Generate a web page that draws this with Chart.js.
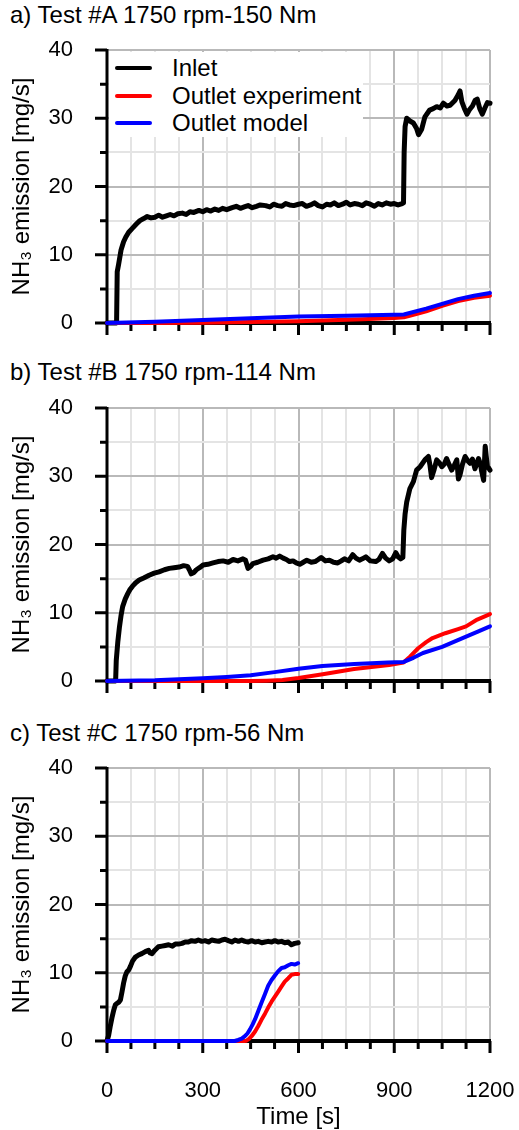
<!DOCTYPE html>
<html lang="en">
<head>
    <meta charset="UTF-8">
    <title>NH3 emission</title>
    <script src="https://cdn.jsdelivr.net/npm/chart.js"></script>
    <style>
        body { margin: 0; background: #fff; font-family: "Liberation Sans", Arial, sans-serif; }
        #page { position: relative; width: 519px; height: 1130px; }
        .ptitle { position: absolute; left: 10px; font-size: 24px; line-height: 28px; color: #000; white-space: nowrap; }
        canvas { position: absolute; left: 0; }
        #legend { position: absolute; left: 109px; top: 52px; width: 254px; height: 85px; background: #fff; z-index: 2; }
        .row { position: absolute; left: 0; height: 28px; font-size: 24px; line-height: 28px; }
        .row span.sw { position: absolute; left: 6px; top: 12px; width: 37px; height: 4px; border-radius: 2px; }
        .row span.tx { position: absolute; left: 63px; top: 0; white-space: nowrap; }
    </style>
</head>
<body>
<div id="page">
    <div class="ptitle" style="top:1px">a) Test #A 1750 rpm-150 Nm</div>
    <div class="ptitle" style="top:358px">b) Test #B 1750 rpm-114 Nm</div>
    <div class="ptitle" style="top:719px">c) Test #C 1750 rpm-56 Nm</div>

    <canvas id="chartA" width="519" height="300" style="top:40px"></canvas>
    <canvas id="chartB" width="519" height="301" style="top:397px"></canvas>
    <canvas id="chartC" width="519" height="373" style="top:757px"></canvas>

    <div id="legend">
        <div class="row" style="top:2px"><span class="sw" style="background:#000"></span><span class="tx">Inlet</span></div>
        <div class="row" style="top:30px"><span class="sw" style="background:#ff0000"></span><span class="tx">Outlet experiment</span></div>
        <div class="row" style="top:57px"><span class="sw" style="background:#0000ff"></span><span class="tx">Outlet model</span></div>
    </div>
</div>

<script>
// ---- data (time in s, NH3 in mg/s) ----

// a) Test #A
const aInletT = [0, 30, 32, 36, 44, 52, 59, 68, 80, 92, 103, 115, 126, 138, 150, 162, 174, 186, 198, 210, 222, 236, 248, 260, 272, 288, 300, 312, 325, 338, 350, 362, 375, 392, 405, 418, 430, 442, 455, 468, 480, 497, 510, 522, 535, 548, 560, 572, 585, 600, 612, 625, 638, 650, 662, 675, 688, 700, 712, 725, 738, 750, 762, 775, 788, 800, 812, 825, 838, 850, 862, 875, 888, 900, 912, 925, 929, 931, 934, 939, 949, 960, 970, 976, 986, 996, 1011, 1022, 1033, 1044, 1054, 1065, 1075, 1090, 1100, 1106, 1112, 1120, 1128, 1135, 1145, 1153, 1160, 1168, 1176, 1184, 1192, 1200];
const aInletV = [0, 0, 7.5, 8.5, 10.7, 11.9, 12.6, 13.3, 13.9, 14.5, 15.0, 15.3, 15.6, 15.4, 15.5, 15.8, 15.5, 15.7, 15.9, 15.7, 16.0, 16.1, 15.9, 16.3, 16.2, 16.5, 16.3, 16.6, 16.4, 16.7, 16.5, 16.8, 16.6, 16.9, 17.1, 16.8, 17.0, 17.2, 16.9, 17.1, 17.3, 17.2, 17.0, 17.4, 17.2, 17.1, 17.5, 17.3, 17.2, 17.4, 17.5, 17.1, 17.3, 17.6, 17.2, 17.0, 17.4, 17.3, 17.6, 17.2, 17.4, 17.7, 17.3, 17.5, 17.4, 17.2, 17.6, 17.4, 17.1, 17.5, 17.3, 17.6, 17.4, 17.5, 17.3, 17.5, 17.6, 25.0, 28.8, 30.0, 29.6, 29.3, 28.5, 27.6, 28.4, 30.2, 31.2, 31.4, 31.7, 31.5, 32.2, 31.8, 31.9, 32.6, 33.4, 34.0, 32.4, 31.4, 30.6, 31.2, 31.8, 32.6, 32.8, 31.4, 30.6, 31.5, 32.3, 32.2];
const aExpT = [0, 150, 300, 450, 600, 700, 800, 900, 930, 960, 1000, 1050, 1100, 1150, 1200];
const aExpV = [0, 0, 0.05, 0.15, 0.25, 0.4, 0.55, 0.75, 0.85, 1.2, 1.7, 2.5, 3.2, 3.7, 4.0];
const aModT = [0, 150, 300, 450, 600, 750, 900, 930, 1000, 1050, 1100, 1150, 1200];
const aModV = [0, 0.2, 0.45, 0.7, 0.95, 1.05, 1.2, 1.25, 2.1, 2.8, 3.5, 4.0, 4.4];

// b) Test #B
const bInletT = [0, 27, 29, 34, 39, 44, 49, 57, 65, 72, 80, 90, 101, 115, 132, 148, 163, 180, 195, 210, 226, 240, 252, 258, 264, 272, 280, 290, 301, 316, 332, 348, 364, 380, 395, 410, 426, 434, 442, 450, 457, 472, 489, 505, 520, 530, 541, 552, 562, 572, 583, 593, 604, 615, 626, 640, 652, 662, 671, 684, 697, 710, 723, 734, 744, 757, 770, 780, 791, 800, 811, 825, 842, 852, 863, 873, 884, 895, 905, 912, 920, 927, 930, 934, 939, 949, 960, 970, 981, 996, 1007, 1012, 1017, 1025, 1033, 1041, 1049, 1057, 1064, 1072, 1080, 1088, 1096, 1101, 1106, 1114, 1122, 1130, 1137, 1145, 1153, 1164, 1170, 1174, 1180, 1185, 1188, 1192, 1196, 1200];
const bInletV = [0, 0, 3.0, 5.8, 7.9, 9.6, 10.9, 12.0, 12.8, 13.4, 13.9, 14.4, 14.8, 15.1, 15.5, 15.8, 16.0, 16.3, 16.5, 16.6, 16.7, 16.9, 16.8, 16.3, 15.7, 15.9, 16.3, 16.6, 17.0, 17.1, 17.3, 17.5, 17.6, 17.4, 17.8, 17.6, 17.9, 17.7, 16.5, 16.8, 17.2, 17.4, 17.7, 17.9, 18.2, 18.0, 18.3, 18.0, 17.8, 17.5, 17.6, 17.3, 17.1, 17.4, 17.7, 17.4, 17.5, 17.8, 18.1, 17.6, 17.7, 17.4, 17.3, 17.6, 17.9, 17.6, 18.5, 18.0, 17.7, 17.9, 18.2, 17.6, 17.5, 17.8, 18.7, 18.0, 17.6, 17.9, 18.8, 18.2, 17.9, 18.1, 22.1, 24.5, 26.2, 28.2, 29.2, 30.9, 31.4, 32.4, 32.9, 31.6, 29.8, 31.0, 32.4, 32.0, 31.4, 31.8, 32.6, 31.7, 30.9, 31.6, 32.4, 29.6, 30.2, 31.8, 32.9, 32.3, 31.9, 32.5, 31.1, 32.6, 31.8, 30.7, 29.4, 34.4, 33.0, 31.4, 31.2, 30.9];
const bExpT = [0, 450, 500, 550, 600, 676, 774, 884, 929, 950, 975, 1000, 1020, 1060, 1100, 1125, 1160, 1180, 1200];
const bExpV = [0, 0, 0.05, 0.15, 0.45, 1.0, 1.75, 2.35, 2.7, 3.6, 4.8, 5.7, 6.3, 7.0, 7.6, 8.0, 9.0, 9.4, 9.8];
const bModT = [0, 150, 225, 300, 375, 450, 525, 600, 675, 775, 880, 930, 960, 990, 1050, 1125, 1160, 1200];
const bModV = [0, 0.1, 0.25, 0.4, 0.6, 0.85, 1.3, 1.8, 2.2, 2.5, 2.7, 2.8, 3.4, 4.1, 5.0, 6.5, 7.2, 8.0];

// c) Test #C
const cInletT = [0, 5, 10, 16, 21, 26, 31, 37, 42, 47, 52, 57, 62, 68, 73, 80, 89, 99, 109, 120, 130, 135, 141, 150, 161, 172, 183, 193, 205, 214, 224, 235, 245, 255, 265, 276, 286, 297, 307, 318, 328, 339, 350, 360, 370, 380, 391, 401, 412, 422, 432, 443, 453, 464, 474, 485, 495, 505, 516, 526, 536, 547, 557, 568, 578, 588, 599];
const cInletV = [0, 0.8, 2.1, 3.5, 4.5, 5.3, 5.5, 5.7, 6.0, 7.2, 8.5, 9.5, 10.1, 10.4, 10.9, 11.7, 12.3, 12.6, 12.8, 13.1, 13.3, 12.9, 12.8, 13.3, 13.8, 13.9, 14.0, 14.1, 13.9, 14.2, 14.2, 14.3, 14.5, 14.5, 14.7, 14.6, 14.8, 14.6, 14.7, 14.5, 14.8, 14.7, 14.6, 14.8, 14.9, 14.7, 14.5, 14.8, 14.6, 14.8, 14.6, 14.5, 14.7, 14.5, 14.6, 14.4, 14.5, 14.6, 14.5, 14.7, 14.5, 14.6, 14.4, 14.5, 14.1, 14.3, 14.4];
const cExpT = [0, 430, 437, 445, 453, 464, 474, 484, 495, 505, 516, 526, 536, 547, 557, 568, 578, 588, 599];
const cExpV = [0, 0, 0.05, 0.3, 0.7, 1.4, 2.2, 3.1, 4.0, 4.9, 5.8, 6.5, 7.2, 8.0, 8.7, 9.2, 9.7, 9.8, 9.8];
const cModT = [0, 400, 411, 422, 432, 440, 448, 456, 464, 474, 484, 495, 505, 515, 526, 536, 547, 557, 568, 578, 588, 599];
const cModV = [0, 0, 0.15, 0.35, 0.7, 1.1, 1.7, 2.4, 3.2, 4.4, 5.6, 6.9, 8.1, 8.9, 9.6, 10.2, 10.7, 10.8, 11.1, 11.3, 11.2, 11.4];

const xTickLabels = [0, 300, 600, 900, 1200];
const yTickLabels = [0, 10, 20, 30, 40];

const FONT = '"Liberation Sans", Arial, sans-serif';
const MAJOR_GRID = '#b9b9b9';
const MINOR_GRID = '#e4e4e4';

function pts(t, v) {
    return t.map((x, i) => ({ x: x, y: v[i] }));
}

// no grid line at 0, the black axis sits there
function gridColor(labels) {
    return c => c.tick.value === 0 ? 'rgba(0,0,0,0)' : (labels.includes(c.tick.value) ? MAJOR_GRID : MINOR_GRID);
}

// thick black axis lines + outward tick marks (longer at labelled values), under the data
const axisLines = {
    id: 'axisLines',
    beforeDatasetsDraw(chart) {
        const ctx = chart.ctx;
        const xs = chart.scales.x, ys = chart.scales.y;
        const area = chart.chartArea;
        ctx.save();
        ctx.strokeStyle = '#000';
        ctx.lineCap = 'butt';

        ctx.lineWidth = 3;
        ctx.beginPath();
        ctx.moveTo(area.left, area.top - 1);
        ctx.lineTo(area.left, area.bottom + 2);
        xs.ticks.forEach(t => {
            const px = xs.getPixelForValue(t.value);
            const len = xTickLabels.includes(t.value) ? 12 : 8;
            ctx.moveTo(px, area.bottom);
            ctx.lineTo(px, area.bottom + len);
        });
        ys.ticks.forEach(t => {
            const py = ys.getPixelForValue(t.value);
            const len = yTickLabels.includes(t.value) ? 12 : 7;
            ctx.moveTo(area.left - len, py);
            ctx.lineTo(area.left, py);
        });
        ctx.stroke();

        ctx.lineWidth = 4;
        ctx.beginPath();
        ctx.moveTo(area.left - 1, area.bottom);
        ctx.lineTo(area.right + 1, area.bottom);
        ctx.stroke();
        ctx.restore();
    }
};

function makeChart(id, inlet, exp, mod, showX, xHeight) {
    const ctx = document.getElementById(id).getContext('2d');
    return new Chart(ctx, {
        type: 'line',
        data: {
            datasets: [
                { label: 'Inlet', data: inlet, borderColor: '#000', borderWidth: 5, order: 3 },
                { label: 'Outlet experiment', data: exp, borderColor: '#ff0000', borderWidth: 4, order: 2 },
                { label: 'Outlet model', data: mod, borderColor: '#0000ff', borderWidth: 4, order: 1 }
            ]
        },
        options: {
            responsive: false,
            animation: false,
            parsing: false,
            layout: { padding: { top: id === 'chartA' ? 10 : 11, right: 29, left: 0, bottom: 0 } },
            elements: {
                point: { radius: 0 },
                line: { tension: 0, borderJoinStyle: 'round', borderCapStyle: 'round' }
            },
            datasets: { line: { clip: 8 } },
            plugins: { legend: { display: false }, tooltip: { enabled: false } },
            scales: {
                x: {
                    type: 'linear', min: 0, max: 1200,
                    border: { display: false },
                    grid: { drawTicks: false, lineWidth: 2, color: gridColor(xTickLabels) },
                    ticks: {
                        display: showX, stepSize: 75, autoSkip: false, maxRotation: 0, padding: 37,
                        color: '#000', font: { family: FONT, size: 22 },
                        callback: v => xTickLabels.includes(v) ? v : ''
                    },
                    title: {
                        display: showX, text: 'Time [s]', color: '#000',
                        font: { family: FONT, size: 24, lineHeight: 1 }, padding: { top: 0, bottom: 1 }
                    },
                    afterFit: s => { s.height = xHeight; s.paddingLeft = 0; s.paddingRight = 0; }
                },
                y: {
                    min: 0, max: 40,
                    border: { display: false },
                    grid: { drawTicks: false, lineWidth: 2, color: gridColor(yTickLabels) },
                    ticks: {
                        stepSize: 5, autoSkip: false, padding: 34,
                        color: '#000', font: { family: FONT, size: 22 },
                        callback: v => yTickLabels.includes(v) ? v : ''
                    },
                    title: {
                        display: true, text: 'NH\u2083 emission [mg/s]', color: '#000',
                        font: { family: FONT, size: 24 }, padding: { top: 8, bottom: 0 }
                    },
                    afterFit: s => { s.width = 107; s.paddingTop = 0; s.paddingBottom = 0; }
                }
            }
        },
        plugins: [axisLines]
    });
}

makeChart('chartA', pts(aInletT, aInletV), pts(aExpT, aExpV), pts(aModT, aModV), false, 17);
makeChart('chartB', pts(bInletT, bInletV), pts(bExpT, bExpV), pts(bModT, bModV), false, 17);
makeChart('chartC', pts(cInletT, cInletV), pts(cExpT, cExpV), pts(cModT, cModV), true, 89);
</script>
</body>
</html>
